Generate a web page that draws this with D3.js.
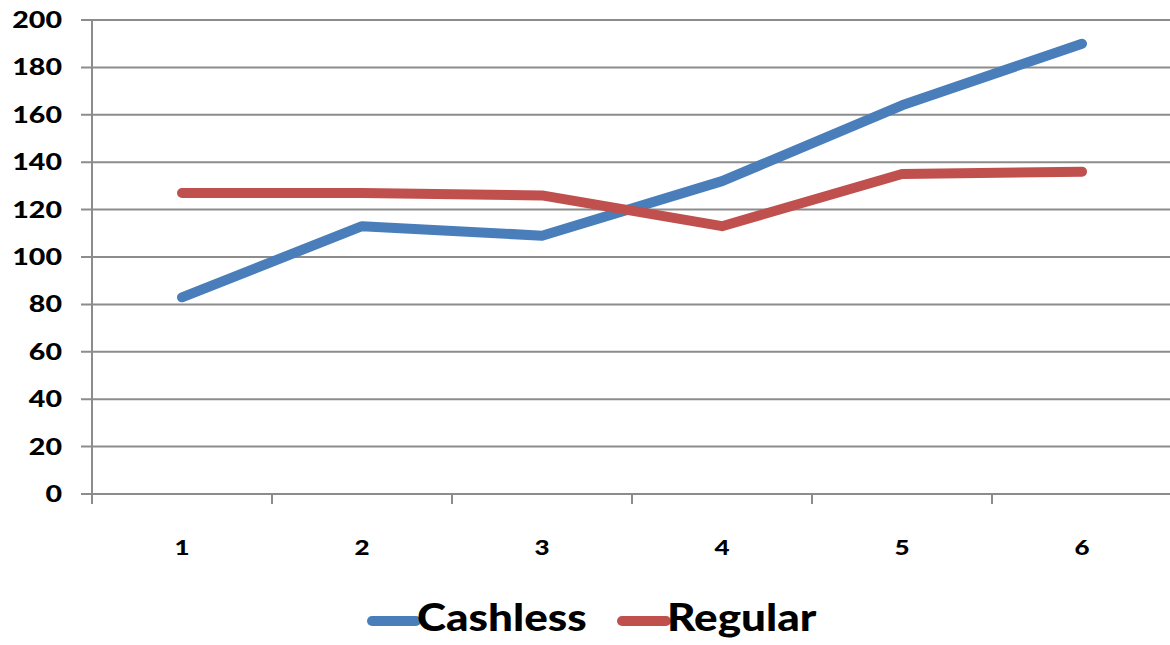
<!DOCTYPE html>
<html>
<head>
<meta charset="utf-8">
<script src="https://cdn.jsdelivr.net/npm/d3@7"></script>
<style>
  body { margin: 0; background: #fff; }
  text { font-family: Lato, "Open Sans", sans-serif; font-weight: 900; fill: #000; }
</style>
</head>
<body>
<div id="chart"></div>
<script>
const width = 1170;
const height = 645;
const margin = { top: 20, right: -2, bottom: 151, left: 92 };

const categories = ["1", "2", "3", "4", "5", "6"];
const cashless = [83, 113, 109, 132, 164, 190];
const regular = [127, 127, 126, 113, 135, 136];
const yTicks = [0, 20, 40, 60, 80, 100, 120, 140, 160, 180, 200];

const series = [
  { name: "Cashless", values: cashless, color: "#4a7ebb" },
  { name: "Regular", values: regular, color: "#c0504d" },
];

const svg = d3
  .select("#chart")
  .append("svg")
  .attr("width", width)
  .attr("height", height);

const innerW = width - margin.left - margin.right;
const innerH = height - margin.top - margin.bottom;

const g = svg
  .append("g")
  .attr("transform", `translate(${margin.left},${margin.top})`);

const xScale = d3.scaleBand().domain(categories).range([0, innerW]);
const yScale = d3.scaleLinear().domain([0, 200]).range([innerH, 0]);

// Gridlines with left tick stubs
g.selectAll(".grid")
  .data(yTicks)
  .enter()
  .append("line")
  .attr("x1", -11)
  .attr("x2", innerW + 2)
  .attr("y1", (d) => yScale(d))
  .attr("y2", (d) => yScale(d))
  .attr("stroke", "#8c8c8c")
  .attr("stroke-width", 2);

// Y axis line
g.append("line")
  .attr("x1", 0)
  .attr("x2", 0)
  .attr("y1", yScale(200))
  .attr("y2", innerH + 10)
  .attr("stroke", "#8c8c8c")
  .attr("stroke-width", 2);

// Y labels (stretched horizontally like the original)
g.selectAll(".ylab")
  .data(yTicks)
  .enter()
  .append("text")
  .attr("transform", (d) => `translate(-30,${yScale(d)}) scale(1.3,1)`)
  .attr("dy", "0.36em")
  .attr("text-anchor", "end")
  .style("font-size", "22px")
  .text((d) => d);

// X category boundary ticks
const bounds = categories.map((c) => xScale(c)).concat([innerW]);
g.selectAll(".xtick")
  .data(bounds)
  .enter()
  .append("line")
  .attr("x1", (d) => d)
  .attr("x2", (d) => d)
  .attr("y1", innerH)
  .attr("y2", innerH + 10)
  .attr("stroke", "#8c8c8c")
  .attr("stroke-width", 2);

// X labels
g.selectAll(".xlab")
  .data(categories)
  .enter()
  .append("text")
  .attr("transform", (d) => `translate(${xScale(d) + xScale.bandwidth() / 2},${innerH + 61}) scale(1.3,1)`)
  .attr("text-anchor", "middle")
  .style("font-size", "20px")
  .text((d) => d);

// Lines
const line = d3
  .line()
  .x((d, i) => xScale(categories[i]) + xScale.bandwidth() / 2)
  .y((d) => yScale(d));

series.forEach((s) => {
  g.append("path")
    .datum(s.values)
    .attr("d", line)
    .attr("fill", "none")
    .attr("stroke", s.color)
    .attr("stroke-width", 10)
    .attr("stroke-linecap", "round")
    .attr("stroke-linejoin", "round");
});

// Legend
const legend = svg.append("g").attr("transform", "translate(0,621)");
const legendX = [372, 622];
series.forEach((s, i) => {
  const lg = legend.append("g").attr("transform", `translate(${legendX[i]},0)`);
  lg.append("line")
    .attr("x1", 0)
    .attr("x2", 44)
    .attr("y1", 0)
    .attr("y2", 0)
    .attr("stroke", s.color)
    .attr("stroke-width", 10)
    .attr("stroke-linecap", "round");
  lg.append("text")
    .attr("transform", "translate(45,10) scale(1.19,1)")
    .style("font-size", "37px")
    .text(s.name);
});
</script>
</body>
</html>
